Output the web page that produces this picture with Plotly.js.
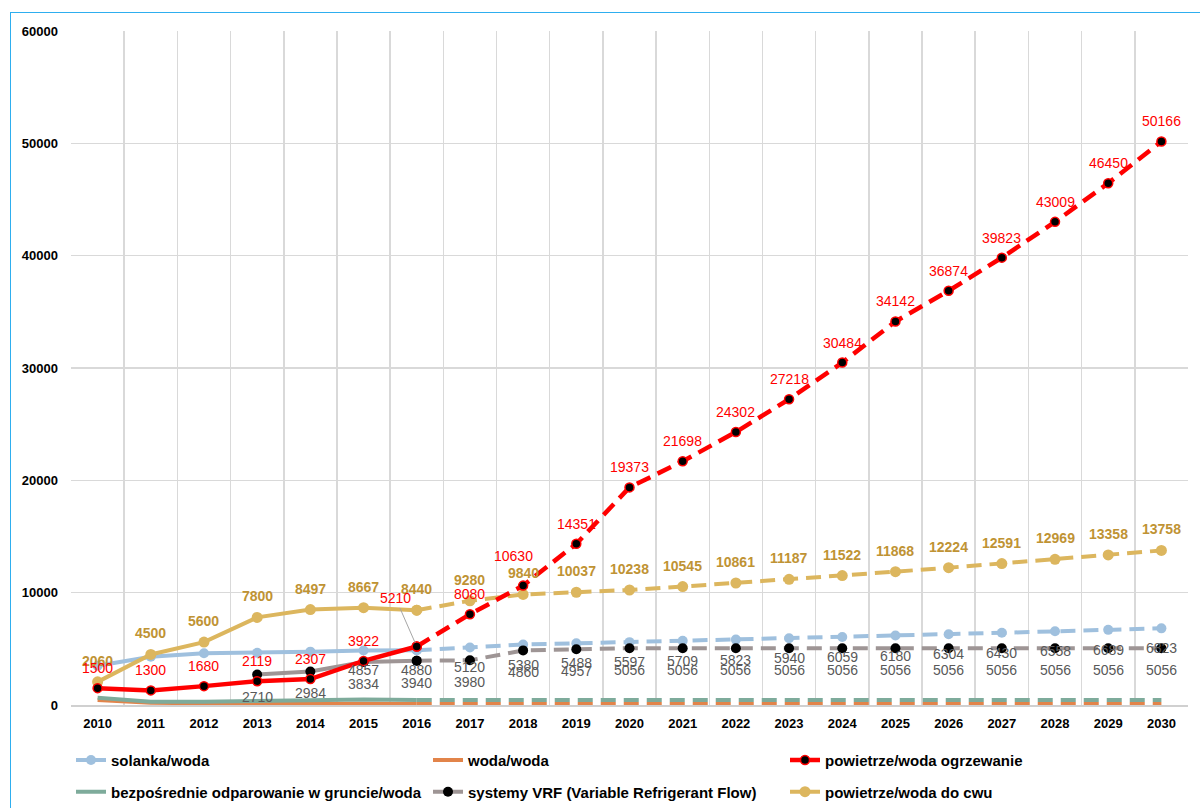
<!DOCTYPE html>
<html lang="pl">
<head>
  <meta charset="UTF-8">
  <title>Pompy ciepła 2010-2030</title>
  <script src="https://cdn.plot.ly/plotly-3.0.1.min.js"></script>
  <style>
    body {
      margin: 0;
      background: white;
    }
    #frame {
      position: absolute;
      left: 10px;
      top: 12px;
      width: 1200px;
      height: 820px;
      border: 1px solid #2eaeef;
    }
    #chart {
      position: absolute;
      left: 0;
      top: 0;
      width: 1200px;
      height: 808px;
    }
  </style>
</head>
<body>
  <div id="frame"></div>
  <div id="chart"></div>

  <script>
    // Data
    const years = ['2010', '2011', '2012', '2013', '2014', '2015', '2016', '2017', '2018', '2019', '2020',
                   '2021', '2022', '2023', '2024', '2025', '2026', '2027', '2028', '2029', '2030'];

    const solanka = [3500, 4300, 4600, 4650, 4750, 4857, 4880, 5120, 5380, 5488, 5597,
                     5709, 5823, 5940, 6059, 6180, 6304, 6430, 6558, 6689, 6823];
    const wodaWoda = [450, 200, 150, 120, 100, 100, 100, 100, 100, 100, 100,
                      100, 100, 100, 100, 100, 100, 100, 100, 100, 100];
    const ogrzewanie = [1500, 1300, 1680, 2119, 2307, 3922, 5210, 8080, 10630, 14351, 19373,
                        21698, 24302, 27218, 30484, 34142, 36874, 39823, 43009, 46450, 50166];
    const gruntWoda = [650, 300, 300, 350, 400, 500, 450, 450, 400, 400, 400,
                       400, 400, 400, 400, 450, 450, 450, 450, 450, 450];
    const vrf = [null, null, null, 2710, 2984, 3834, 3940, 3980, 4860, 4957, 5056,
                 5056, 5056, 5056, 5056, 5056, 5056, 5056, 5056, 5056, 5056];
    const cwu = [2060, 4500, 5600, 7800, 8497, 8667, 8440, 9280, 9840, 10037, 10238,
                 10545, 10861, 11187, 11522, 11868, 12224, 12591, 12969, 13358, 13758];

    const SPLIT = 6; // 2016: last year of real data, forecast after it
    const FONT = 'Liberation Sans, Arial, sans-serif';
    const DASH = '15px,8px';

    // one series = solid part (history) + dashed part (forecast)
    function series(name, vals, opts) {
      function make(dashed) {
        const t = {
          type: 'scatter',
          name: name,
          mode: opts.marker ? 'lines+markers' : 'lines',
          x: dashed ? years.slice(SPLIT) : years.slice(0, SPLIT + 1),
          y: dashed ? vals.slice(SPLIT) : vals.slice(0, SPLIT + 1),
          line: { color: opts.color, width: opts.width || 4 },
          cliponaxis: false,
          legendgroup: name,
          showlegend: !dashed
        };
        if (dashed) t.line.dash = DASH;
        else {
          t.legend = opts.legend;
          t.legendrank = opts.rank;
        }
        if (opts.marker) t.marker = opts.marker;
        return t;
      }
      return [make(false), make(true)];
    }

    const data = [].concat(
      series('woda/woda', wodaWoda, { color: '#e2844a', legend: 'legend', rank: 2 }),
      series('bezpośrednie odparowanie w gruncie/woda', gruntWoda, { color: '#7eab9b', legend: 'legend2', rank: 4 }),
      series('solanka/woda', solanka, {
        color: '#9fc0de', legend: 'legend', rank: 1,
        marker: { color: '#9fc0de', size: 10 }
      }),
      series('systemy VRF (Variable Refrigerant Flow)', vrf, {
        color: '#9e9595', legend: 'legend2', rank: 5,
        marker: { color: 'black', size: 10 }
      }),
      series('powietrze/woda do cwu', cwu, {
        color: '#dcb65e', legend: 'legend2', rank: 6,
        marker: { color: '#dcb65e', size: 11 }
      }),
      series('powietrze/woda ogrzewanie', ogrzewanie, {
        color: '#ff0000', width: 4.5, legend: 'legend', rank: 3,
        marker: { color: 'black', size: 9, line: { color: '#ff0000', width: 1.5 } }
      })
    );

    // data labels, placed like Excel does (above / below each point)
    const grayFont = { family: FONT, size: 14, color: '#595959' };
    const redFont = { family: FONT, size: 14, color: '#ff0000' };
    const goldFont = { family: FONT, size: 14, color: '#bf9334', weight: 'bold' };

    function labelSet(vals, from, font, dy, nudge) {
      const out = [];
      vals.forEach((v, i) => {
        if (v == null || i < from) return;
        const n = (nudge && nudge[i]) || {};
        if (n.skip) return;
        out.push({
          x: i, y: v, xref: 'x', yref: 'y',
          text: String(v), showarrow: false,
          font: font,
          yshift: n.dy != null ? n.dy : dy,
          xshift: n.dx || 0
        });
      });
      return out;
    }

    const annotations = [].concat(
      labelSet(solanka, 5, grayFont, -20),
      labelSet(vrf, 0, grayFont, -22),
      labelSet(cwu, 0, goldFont, 21),
      labelSet(ogrzewanie, 0, redFont, 20, { 6: { skip: true }, 8: { dy: 30, dx: -10 } }),
      [{
        // 2016 label pulled off its point with a leader line
        x: SPLIT,
        y: ogrzewanie[SPLIT],
        xref: 'x',
        yref: 'y',
        text: String(ogrzewanie[SPLIT]),
        showarrow: true,
        arrowhead: 0,
        arrowwidth: 1,
        arrowcolor: '#a6a6a6',
        ax: -21,
        ay: -48,
        standoff: 4,
        font: redFont
      }]
    );

    const legendCommon = {
      orientation: 'h',
      x: 0,
      xanchor: 'left',
      yanchor: 'middle',
      entrywidth: 312,
      font: { family: FONT, size: 15, color: '#000', weight: 'bold' },
      bgcolor: 'rgba(0,0,0,0)',
      traceorder: 'normal'
    };

    const layout = {
      width: 1200,
      height: 808,
      margin: { l: 71, r: 12, t: 31, b: 103, autoexpand: false },
      paper_bgcolor: 'rgba(0,0,0,0)',
      plot_bgcolor: 'white',
      xaxis: {
        type: 'category',
        categoryorder: 'array',
        categoryarray: years,
        range: [-0.5, years.length - 0.5],
        tickson: 'boundaries',
        ticks: '',
        showgrid: true,
        gridcolor: '#d9d9d9',
        gridwidth: 1.5,
        showline: true,
        linecolor: '#d0d0d0',
        linewidth: 1.5,
        ticklabelstandoff: 6,
        tickfont: { family: FONT, size: 13, color: '#000', weight: 'bold' },
        zeroline: false
      },
      yaxis: {
        range: [0, 60000],
        tickvals: [0, 10000, 20000, 30000, 40000, 50000, 60000],
        ticktext: ['0', '10000', '20000', '30000', '40000', '50000', '60000'],
        showgrid: true,
        gridcolor: '#d9d9d9',
        gridwidth: 1.5,
        zeroline: false,
        showline: false,
        ticks: '',
        ticklabelstandoff: 12,
        tickfont: { family: FONT, size: 13, color: '#000', weight: 'bold' }
      },
      legend: Object.assign({}, legendCommon, { y: -0.082 }),
      legend2: Object.assign({}, legendCommon, { y: -0.129 }),
      annotations: annotations,
      showlegend: true
    };

    Plotly.newPlot('chart', data, layout, { staticPlot: true, displayModeBar: false });
  </script>
</body>
</html>
